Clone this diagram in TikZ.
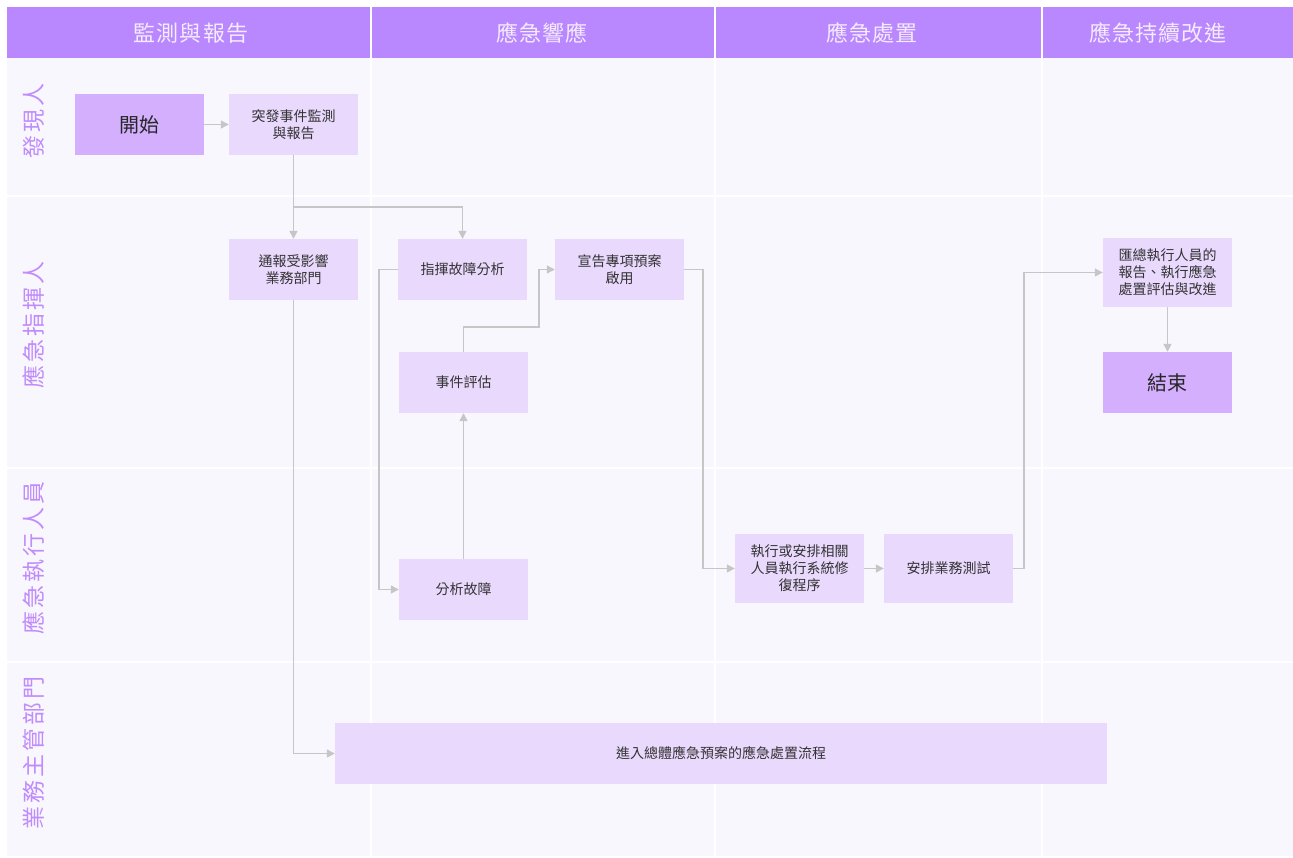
\documentclass[tikz,border=0pt]{standalone}
\usepackage{fontspec}
\setmainfont{Noto Sans CJK TC}
\usetikzlibrary{arrows.meta}
\definecolor{hdr}{HTML}{B987FE}
\definecolor{hdrtxt}{HTML}{F4EBFF}
\definecolor{lanebg}{HTML}{F9F7FE}
\definecolor{lanetxt}{HTML}{C08CFC}
\definecolor{boxfill}{HTML}{E9D9FD}
\definecolor{termfill}{HTML}{D3AFFD}
\definecolor{conncol}{HTML}{C6C6C6}
\definecolor{txt}{HTML}{333333}
\tikzset{
  hdrcell/.style={fill=hdr,draw=none},
  hdrlabel/.style={text=hdrtxt,font=\fontsize{22}{26}\selectfont\addfontfeatures{LetterSpace=5},inner sep=0},
  lanelabel/.style={text=lanetxt,font=\fontsize{23}{26}\selectfont\addfontfeatures{LetterSpace=13},rotate=90,inner sep=0},
  procbox/.style={fill=boxfill,draw=none,minimum width=129pt,minimum height=61pt,inner sep=0,align=center,text=txt,font=\fontsize{14}{17}\selectfont},
  tallbox/.style={procbox,minimum height=69pt},
  termbox/.style={fill=termfill,draw=none,minimum width=129pt,minimum height=61pt,inner sep=0,align=center,text=black!85,font=\fontsize{20}{24}\selectfont},
  conn/.style={draw=conncol,line width=1.3pt,-{Triangle[length=8pt,width=8pt]}},
  sep/.style={draw=white,line width=2pt}
}
\begin{document}
\begin{tikzpicture}[x=1pt,y=-1pt]
\useasboundingbox (0,0) rectangle (1293,857);
\fill[white] (0,0) rectangle (1293,857);
% lanes background
\fill[lanebg] (7,58) rectangle (1293,856);
\draw[sep] (7,195.5) -- (1293,195.5);
\draw[sep] (7,468) -- (1293,468);
\draw[sep] (7,662) -- (1293,662);
\draw[sep] (370.5,58) -- (370.5,856);
\draw[sep] (714.5,58) -- (714.5,856);
\draw[sep] (1041.5,58) -- (1041.5,856);
% header
\fill[hdrcell] (7,7) rectangle (369.5,57.5);
\fill[hdrcell] (371.5,7) rectangle (713.5,57.5);
\fill[hdrcell] (715.5,7) rectangle (1040.5,57.5);
\fill[hdrcell] (1042.5,7) rectangle (1293,57.5);
\node[hdrlabel] (h1) at (191,33) {監測與報告};
\node[hdrlabel] (h2) at (542,33) {應急響應};
\node[hdrlabel] (h3) at (872,33) {應急處置};
\node[hdrlabel] (h4) at (1158,33) {應急持續改進};
% lane labels
\node[lanelabel] (l1) at (34,121) {發現人};
\node[lanelabel] (l2) at (34,325) {應急指揮人};
\node[lanelabel] (l3) at (34,558) {應急執行人員};
\node[lanelabel] (l4) at (34,753) {業務主管部門};
% nodes
\node[termbox] (start) at (139.5,124.5) {開始};
\node[procbox] (tufa) at (293.5,124.5) {突發事件監測\\與報告};
\node[procbox] (tongbao) at (293.5,269.5) {通報受影響\\業務部門};
\node[procbox] (zhihui) at (462.5,269.5) {指揮故障分析};
\node[procbox] (xuangao) at (619.5,269.5) {宣告專項預案\\啟用};
\node[procbox] (pinggu) at (463.5,382.5) {事件評估};
\node[procbox] (fenxi) at (463.5,589.5) {分析故障};
\node[tallbox] (zhixing) at (799.5,568.5) {執行或安排相關\\人員執行系統修\\復程序};
\node[tallbox] (ceshi) at (948.5,568.5) {安排業務測試};
\node[tallbox] (huizong) at (1167.5,272.5) {匯總執行人員的\\報告、執行應急\\處置評估與改進};
\node[termbox] (end) at (1167.5,382.5) {結束};
\node[procbox,minimum width=772pt] (jinru) at (721,753.5) {進入總體應急預案的應急處置流程};
% connectors
\coordinate (b1) at (293.5,207);
\coordinate (c4) at (379,400);
\coordinate (c6) at (539,327);
\coordinate (c7) at (703,400);
\coordinate (c9) at (1024,400);
\draw[conn] (start) -- (tufa);
\draw[conn] (tufa.south) -- (tongbao.north);
\draw[conn] (b1) -| (zhihui.north);
\draw[conn] (tongbao.south) |- (jinru.west);
\draw[conn] (zhihui.west) -| (c4) |- (fenxi.west);
\draw[conn] (fenxi.north) -- (pinggu.south);
\draw[conn] (pinggu.north) |- (c6) |- (xuangao.west);
\draw[conn] (xuangao.east) -| (c7) |- (zhixing.west);
\draw[conn] (zhixing) -- (ceshi);
\draw[conn] (ceshi.east) -| (c9) |- (huizong.west);
\draw[conn] (huizong.south) -- (end.north);
\end{tikzpicture}
\end{document}
